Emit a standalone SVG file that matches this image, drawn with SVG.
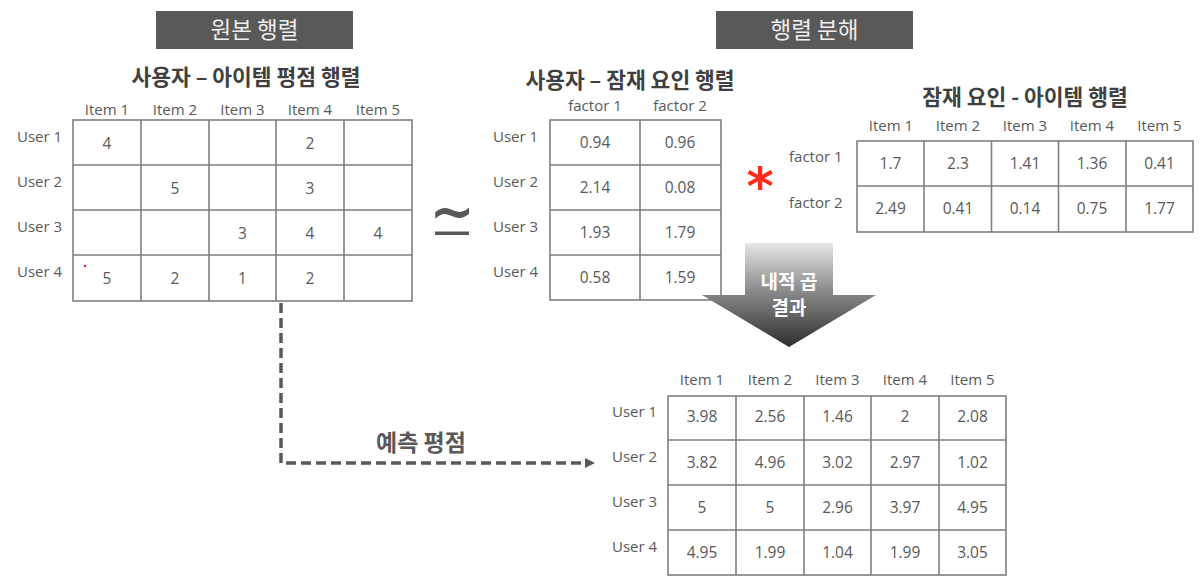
<svg xmlns="http://www.w3.org/2000/svg" width="1204" height="580" viewBox="0 0 1204 580">
<defs>
<style>
.t{font-family:"Open Sans","Noto Sans CJK KR",sans-serif;font-size:15px;fill:#595959}
.c{text-anchor:middle}
.v{font-family:"Open Sans","Noto Sans CJK KR",sans-serif;font-size:15.5px;fill:#595959;text-anchor:middle}
.ttl{font-family:"Noto Sans CJK KR","Open Sans",sans-serif;font-size:21.5px;font-weight:bold;fill:#404040;text-anchor:middle}
.hdr{font-family:"Noto Sans CJK KR",sans-serif;font-size:22.5px;fill:#eeeeee;text-anchor:middle}
.hbox{fill:#595959}
.grid{fill:none;stroke:#7f7f7f;stroke-width:1.6}
.dash{fill:none;stroke:#595959;stroke-width:3.5;stroke-dasharray:10 5}
.at{font-family:"Noto Sans CJK KR",sans-serif;font-size:19px;font-weight:bold;fill:#ffffff;text-anchor:middle}
</style>
<linearGradient id="ag" x1="0" y1="0" x2="0" y2="1">
<stop offset="0" stop-color="#e6e6e6"/>
<stop offset="0.45" stop-color="#8c8c8c"/>
<stop offset="1" stop-color="#2e2e2e"/>
</linearGradient>
<marker id="ah" markerWidth="10" markerHeight="10" refX="6" refY="5" orient="auto" markerUnits="userSpaceOnUse">
<path d="M0,0 L10,5 L0,10 Z" fill="#595959"/>
</marker>
</defs>
<rect width="1204" height="580" fill="#ffffff"/>

<g id="header-original">
<rect class="hbox" x="156" y="11" width="197" height="38"/>
<text class="hdr" x="254.5" y="38">원본 행렬</text>
</g>
<g id="header-decomp">
<rect class="hbox" x="716" y="11" width="197" height="38"/>
<text class="hdr" x="814.5" y="38">행렬 분해</text>
</g>

<g id="matrix-original">
<text class="ttl" x="246" y="85">사용자 – 아이템 평점 행렬</text>
<text class="t c" x="107" y="115">Item 1</text>
<text class="t c" x="175" y="115">Item 2</text>
<text class="t c" x="242.5" y="115">Item 3</text>
<text class="t c" x="310" y="115">Item 4</text>
<text class="t c" x="378" y="115">Item 5</text>
<text class="t" x="17" y="142">User 1</text>
<text class="t" x="17" y="187">User 2</text>
<text class="t" x="17" y="232">User 3</text>
<text class="t" x="17" y="277">User 4</text>
<rect class="grid" x="73" y="120" width="339" height="181"/>
<path class="grid" d="M141,120V301M209,120V301M276,120V301M344,120V301M73,165H412M73,210H412M73,255H412"/>
<text class="v" x="107" y="149">4</text>
<text class="v" x="310" y="149">2</text>
<text class="v" x="175" y="194">5</text>
<text class="v" x="310" y="194">3</text>
<text class="v" x="242.5" y="239">3</text>
<text class="v" x="310" y="239">4</text>
<text class="v" x="378" y="239">4</text>
<text class="v" x="107" y="284">5</text>
<text class="v" x="175" y="284">2</text>
<text class="v" x="242.5" y="284">1</text>
<text class="v" x="310" y="284">2</text>
<circle cx="85" cy="266" r="1.2" fill="#e02020"/>
</g>

<g id="approx">
<text x="452" y="230" font-family="DejaVu Sans,sans-serif" font-size="54" font-weight="bold" fill="#595959" text-anchor="middle">~</text>
<rect x="435" y="231.5" width="34" height="3.5" fill="#595959"/>
</g>

<g id="matrix-user-factor">
<text class="ttl" x="630" y="88">사용자 – 잠재 요인 행렬</text>
<text class="t c" x="595" y="111">factor 1</text>
<text class="t c" x="680" y="111">factor 2</text>
<text class="t" x="493" y="142">User 1</text>
<text class="t" x="493" y="187">User 2</text>
<text class="t" x="493" y="232">User 3</text>
<text class="t" x="493" y="277">User 4</text>
<rect class="grid" x="550" y="120" width="171" height="180"/>
<path class="grid" d="M640,120V300M550,165H721M550,210H721M550,255H721"/>
<text class="v" x="595" y="148">0.94</text>
<text class="v" x="680" y="148">0.96</text>
<text class="v" x="595" y="193">2.14</text>
<text class="v" x="680" y="193">0.08</text>
<text class="v" x="595" y="238">1.93</text>
<text class="v" x="680" y="238">1.79</text>
<text class="v" x="595" y="283">0.58</text>
<text class="v" x="680" y="283">1.59</text>
</g>

<g id="times">
<text x="760" y="204" font-family="DejaVu Sans,sans-serif" font-size="52" font-weight="bold" fill="#ff2a1a" text-anchor="middle">*</text>
</g>

<g id="matrix-factor-item">
<text class="ttl" x="1025" y="105">잠재 요인 - 아이템 행렬</text>
<text class="t c" x="891" y="131">Item 1</text>
<text class="t c" x="958" y="131">Item 2</text>
<text class="t c" x="1025" y="131">Item 3</text>
<text class="t c" x="1092" y="131">Item 4</text>
<text class="t c" x="1159.5" y="131">Item 5</text>
<text class="t" x="789" y="162">factor 1</text>
<text class="t" x="789" y="208">factor 2</text>
<rect class="grid" x="857" y="141" width="336" height="91"/>
<path class="grid" d="M924,141V232M991.5,141V232M1058.5,141V232M1126,141V232M857,186H1193"/>
<text class="v" x="890.5" y="169">1.7</text>
<text class="v" x="958" y="169">2.3</text>
<text class="v" x="1025" y="169">1.41</text>
<text class="v" x="1092" y="169">1.36</text>
<text class="v" x="1159.5" y="169">0.41</text>
<text class="v" x="890.5" y="214">2.49</text>
<text class="v" x="958" y="214">0.41</text>
<text class="v" x="1025" y="214">0.14</text>
<text class="v" x="1092" y="214">0.75</text>
<text class="v" x="1159.5" y="214">1.77</text>
</g>

<g id="dot-product-arrow">
<path d="M745,243H833V295H876L789,347L702,295H745Z" fill="url(#ag)"/>
<text class="at" x="789" y="289">내적 곱</text>
<text class="at" x="789" y="315">결과</text>
</g>

<g id="matrix-predicted">
<text class="t c" x="702" y="385">Item 1</text>
<text class="t c" x="770" y="385">Item 2</text>
<text class="t c" x="837.5" y="385">Item 3</text>
<text class="t c" x="905" y="385">Item 4</text>
<text class="t c" x="972.5" y="385">Item 5</text>
<text class="t" x="612" y="417">User 1</text>
<text class="t" x="612" y="462">User 2</text>
<text class="t" x="612" y="507">User 3</text>
<text class="t" x="612" y="552">User 4</text>
<rect class="grid" x="668" y="396" width="338" height="179"/>
<path class="grid" d="M736,396V575M804,396V575M871,396V575M939,396V575M668,440H1006M668,485H1006M668,530H1006"/>
<text class="v" x="702" y="422">3.98</text>
<text class="v" x="770" y="422">2.56</text>
<text class="v" x="837.5" y="422">1.46</text>
<text class="v" x="905" y="422">2</text>
<text class="v" x="972.5" y="422">2.08</text>
<text class="v" x="702" y="468">3.82</text>
<text class="v" x="770" y="468">4.96</text>
<text class="v" x="837.5" y="468">3.02</text>
<text class="v" x="905" y="468">2.97</text>
<text class="v" x="972.5" y="468">1.02</text>
<text class="v" x="702" y="513">5</text>
<text class="v" x="770" y="513">5</text>
<text class="v" x="837.5" y="513">2.96</text>
<text class="v" x="905" y="513">3.97</text>
<text class="v" x="972.5" y="513">4.95</text>
<text class="v" x="702" y="558">4.95</text>
<text class="v" x="770" y="558">1.99</text>
<text class="v" x="837.5" y="558">1.04</text>
<text class="v" x="905" y="558">1.99</text>
<text class="v" x="972.5" y="558">3.05</text>
</g>

<g id="connectors">
<path class="dash" d="M281,303V463H591" marker-end="url(#ah)"/>
<text x="421" y="451" font-family="Noto Sans CJK KR,sans-serif" font-size="23" font-weight="bold" fill="#595959" text-anchor="middle">예측 평점</text>
</g>
</svg>
